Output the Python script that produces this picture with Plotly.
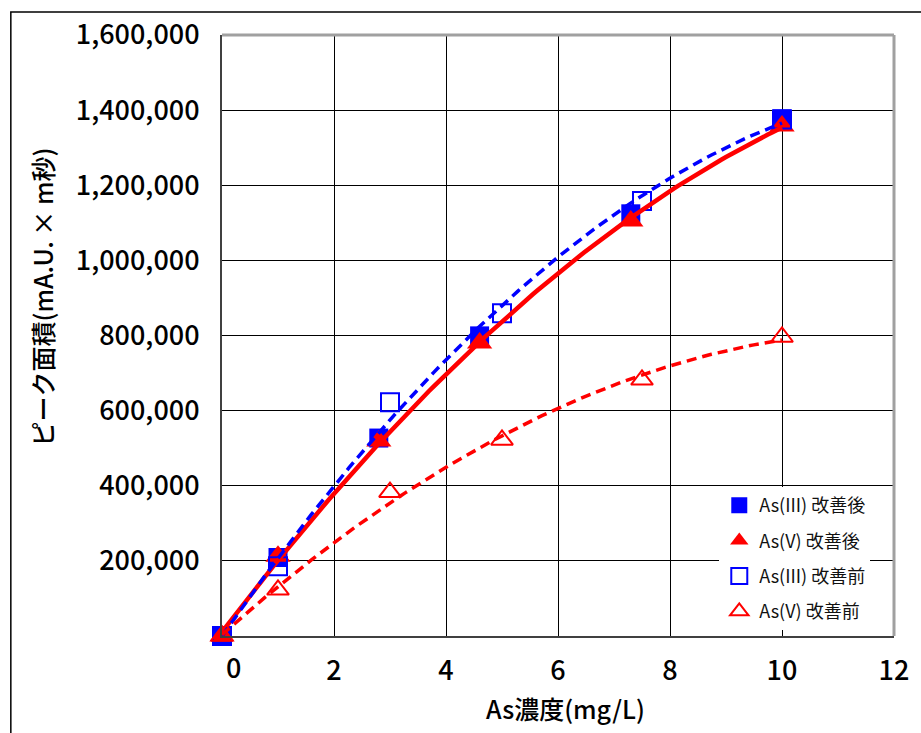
import numpy as np
import plotly.graph_objects as go

# ---- data ----
x_after = [0, 1, 2.8, 4.6, 7.3, 10]
as3_after = [0, 209000, 527000, 799000, 1124000, 1377000]
as5_after = [0, 212000, 519000, 780000, 1105000, 1358000]

x_before = [0, 1, 3, 5, 7.5, 10]
as3_before = [0, 186000, 622000, 859000, 1158000, 1375000]
as5_before = [0, 123000, 383000, 522000, 682000, 796000]

names = ["As(III) 改善後", "As(V) 改善後", "As(III) 改善前", "As(V) 改善前"]
x_ticks = [0, 2, 4, 6, 8, 10, 12]
y_ticks = [200000, 400000, 600000, 800000, 1000000, 1200000, 1400000, 1600000]

BLUE = "#0000FF"
RED = "#FF0000"
FONT = "Noto Sans CJK JP"

fig = go.Figure()

# markers
fig.add_trace(go.Scatter(x=x_after, y=as3_after, mode="markers", name=names[0], legendgroup="a",
                         cliponaxis=False,
                         marker=dict(symbol="square", size=19, color=BLUE, line=dict(width=0))))
fig.add_trace(go.Scatter(x=x_after, y=as5_after, mode="markers", name=names[1], legendgroup="b",
                         cliponaxis=False,
                         marker=dict(symbol="triangle-up", size=22, color=RED, line=dict(width=0))))
fig.add_trace(go.Scatter(x=x_before, y=as3_before, mode="markers", name=names[2], legendgroup="c",
                         cliponaxis=False,
                         marker=dict(symbol="square-open", size=18, color=BLUE, line=dict(width=2, color=BLUE))))
fig.add_trace(go.Scatter(x=x_before, y=as5_before, mode="markers", name=names[3], legendgroup="d",
                         cliponaxis=False,
                         marker=dict(symbol="triangle-up-open", size=19, color=RED, line=dict(width=2, color=RED))))

# polynomial (2nd order) trendlines computed from the data
def trend(xs, ys):
    c = np.polyfit(xs, ys, 2)
    xx = np.linspace(min(xs), max(xs), 120)
    return xx, np.polyval(c, xx)

tx, ty = trend(x_after, as5_after)
fig.add_trace(go.Scatter(x=tx, y=ty, mode="lines", showlegend=False, hoverinfo="skip",
                         cliponaxis=False, line=dict(color=RED, width=4.5)))
tx, ty = trend(x_before, as3_before)
fig.add_trace(go.Scatter(x=tx, y=ty, mode="lines", showlegend=False, hoverinfo="skip",
                         cliponaxis=False, line=dict(color=BLUE, width=3.5, dash="10px,6px")))
tx, ty = trend(x_before, as5_before)
fig.add_trace(go.Scatter(x=tx, y=ty, mode="lines", showlegend=False, hoverinfo="skip",
                         cliponaxis=False, line=dict(color=RED, width=3.5, dash="10px,6px")))

fig.update_layout(
    width=921, height=733,
    margin=dict(l=222, r=18, t=35, b=97),
    paper_bgcolor="white", plot_bgcolor="white",
    font=dict(family=FONT, color="black"),
    showlegend=True,
    legend=dict(x=0.74, y=0.248, xanchor="left", yanchor="top",
                bgcolor="white", borderwidth=0, tracegroupgap=9,
                font=dict(family=FONT, size=18, color="#111"),
                itemwidth=30),
    xaxis=dict(range=[0, 12], tickvals=x_ticks, ticktext=[""] + [str(v) for v in x_ticks[1:]],
               showgrid=True, gridcolor="black", gridwidth=1,
               showline=True, linecolor="#404040", linewidth=2,
               ticks="", zeroline=False, ticklabelstandoff=10,
               tickfont=dict(family=FONT, size=27, color="black", weight=500)),
    yaxis=dict(range=[0, 1600000], tickvals=y_ticks, tickformat=",d",
               showgrid=True, gridcolor="black", gridwidth=1,
               showline=True, linecolor="#404040", linewidth=2,
               ticks="", zeroline=False, ticklabelstandoff=15,
               tickfont=dict(family=FONT, size=27, color="black", weight=500)),
)

# "0" x tick label (offset to the right as in the reference)
fig.add_annotation(x=0, y=0, xref="x", yref="y", text="0", showarrow=False,
                   xshift=11, yshift=-30, font=dict(family=FONT, size=27, color="black", weight=500))

# axis titles
fig.add_annotation(x=(570 - 222) / 681, y=(636 - 708) / 601, xref="paper", yref="paper",
                   text="As濃度(mg/L)", showarrow=False, xanchor="center", yanchor="middle",
                   font=dict(family=FONT, size=25, color="black", weight=500))
fig.add_annotation(x=(40 - 222) / 681, y=(636 - 297) / 601, xref="paper", yref="paper",
                   text="ピーク面積(mA.U. × m秒)", textangle=-90, showarrow=False,
                   xanchor="center", yanchor="middle",
                   font=dict(family=FONT, size=25, color="black", weight=500))

# plot-area top/right border (gray)
fig.add_shape(type="line", xref="paper", yref="paper", x0=0, x1=1, y0=1, y1=1,
              line=dict(color="#a0a0a0", width=3))
fig.add_shape(type="line", xref="paper", yref="paper", x0=1, x1=1, y0=0, y1=1,
              line=dict(color="#a0a0a0", width=3))
# outer chart frame
fig.add_shape(type="rect", xref="paper", yref="paper",
              x0=(8 - 222) / 681, x1=1.2, y0=-0.3, y1=(636 - 12) / 601,
              line=dict(color="black", width=1.5), layer="below")

fig.write_html("out.html")
